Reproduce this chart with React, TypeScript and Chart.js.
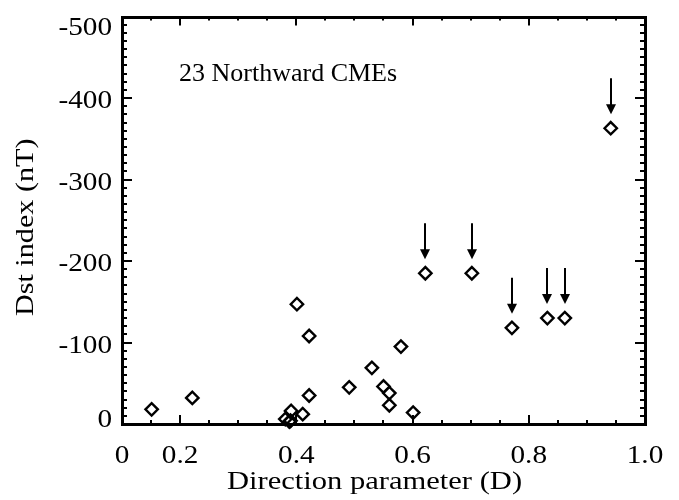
import React, { useEffect, useRef } from "react";
import { Chart, registerables } from "chart.js";

Chart.register(...registerables);

// ---- data ----
const directionD = [
  0.151, 0.221, 0.381, 0.39, 0.391, 0.388, 0.401, 0.411, 0.422, 0.422,
  0.491, 0.53, 0.55, 0.56, 0.56, 0.58, 0.601, 0.622, 0.702, 0.771,
  0.832, 0.862, 0.941,
];
const dstIndex = [
  -18, -32, -6, -4, -16, -3, -147, -12, -108, -35,
  -45, -69, -46, -38, -23, -95, -14, -185, -185, -118,
  -130, -130, -363,
];
const arrowMarked = [
  false, false, false, false, false, false, false, false, false, false,
  false, false, false, false, false, false, false, true, true, true,
  true, true, true,
];

const xRange = [0.1, 1.0];
const yRange = [-500, 0];
const xTickValues = [0.1, 0.2, 0.4, 0.6, 0.8, 1.0];
const xTickLabels = ["0", "0.2", "0.4", "0.6", "0.8", "1.0"];
const xMinorStep = 0.05;
const yTickValues = [-500, -400, -300, -200, -100, 0];
const yTickLabels = ["-500", "-400", "-300", "-200", "-100", "0"];
const yMinorStep = 10;

const annotationText = "23 Northward CMEs";
const xTitle = "Direction parameter (D)";
const yTitle = "Dst index (nT)";

const FONT = '"Liberation Serif", "Times New Roman", Times, serif';

function drawScaledText(
  ctx: CanvasRenderingContext2D,
  s: string,
  x: number,
  y: number,
  align: CanvasTextAlign,
  sx: number,
  rotate = 0
) {
  ctx.save();
  ctx.translate(x, y);
  if (rotate) ctx.rotate(rotate);
  ctx.scale(sx, 1);
  ctx.textAlign = align;
  ctx.textBaseline = "alphabetic";
  ctx.fillText(s, 0, 0);
  ctx.restore();
}

const framePlugin = {
  id: "idlFrame",
  afterDatasetsDraw(chart: any) {
    const ctx: CanvasRenderingContext2D = chart.ctx;
    const meta = chart.getDatasetMeta(0);
    ctx.save();
    ctx.strokeStyle = "#000";
    ctx.fillStyle = "#000";
    ctx.lineWidth = 2;
    meta.data.forEach((el: any, i: number) => {
      if (!arrowMarked[i]) return;
      const cx = Math.round(el.x);
      const tip = el.y - 14;
      const start = el.y - 50;
      ctx.beginPath();
      ctx.moveTo(cx, start);
      ctx.lineTo(cx, tip - 8);
      ctx.stroke();
      ctx.beginPath();
      ctx.moveTo(cx - 5, tip - 10);
      ctx.lineTo(cx + 5, tip - 10);
      ctx.lineTo(cx, tip);
      ctx.closePath();
      ctx.fill();
    });
    ctx.restore();
  },
  afterDraw(chart: any) {
    const ctx: CanvasRenderingContext2D = chart.ctx;
    const a = chart.chartArea;
    const xs = chart.scales.x;
    const ys = chart.scales.y;
    ctx.save();
    ctx.strokeStyle = "#000";
    ctx.fillStyle = "#000";

    const seg = (x1: number, y1: number, x2: number, y2: number) => {
      ctx.beginPath();
      ctx.moveTo(x1, y1);
      ctx.lineTo(x2, y2);
      ctx.stroke();
    };

    // x ticks (bottom & top)
    ctx.lineWidth = 2;
    for (let v = xRange[0]; v <= xRange[1] + 1e-9; v += xMinorStep) {
      const px = Math.round(xs.getPixelForValue(v));
      const major = xTickValues.some((t) => Math.abs(t - v) < 1e-6);
      const len = major ? 9 : 4;
      seg(px, a.bottom, px, a.bottom - len);
      seg(px, a.top, px, a.top + len);
    }
    // y ticks (left & right)
    for (let v = yRange[0]; v <= yRange[1] + 1e-9; v += yMinorStep) {
      const py = Math.round(ys.getPixelForValue(v));
      const major = yTickValues.some((t) => Math.abs(t - v) < 1e-6);
      const len = major ? 10 : 5;
      seg(a.left, py, a.left + len, py);
      seg(a.right, py, a.right - len, py);
    }
    // frame
    ctx.lineWidth = 3;
    ctx.strokeRect(
      Math.round(a.left) + 0.5,
      Math.round(a.top) + 0.5,
      Math.round(a.right - a.left),
      Math.round(a.bottom - a.top)
    );

    // tick labels
    ctx.font = `25px ${FONT}`;
    xTickValues.forEach((v, i) => {
      const px = xs.getPixelForValue(v);
      drawScaledText(ctx, xTickLabels[i], px, a.bottom + 39, "center", 1.17);
    });
    yTickValues.forEach((v, i) => {
      const py = ys.getPixelForValue(v);
      const base = Math.min(Math.max(py + 10, a.top + 18), a.bottom + 3);
      drawScaledText(ctx, yTickLabels[i], a.left - 10, base, "right", 1.17);
    });

    // axis titles
    ctx.font = `26px ${FONT}`;
    drawScaledText(ctx, xTitle, (a.left + a.right) / 2 - 9, a.bottom + 65, "center", 1.175);
    drawScaledText(ctx, yTitle, a.left - 89, (a.top + a.bottom) / 2 + 7, "center", 1.16, -Math.PI / 2);

    // annotation
    ctx.font = `26px ${FONT}`;
    drawScaledText(ctx, annotationText, a.left + 57, a.top + 64, "left", 1.0);

    ctx.restore();
  },
};

export default function App() {
  const ref = useRef<HTMLCanvasElement | null>(null);

  useEffect(() => {
    if (!ref.current) return;
    let chart: Chart | null = null;
    let cancelled = false;
    const build = () => {
      if (cancelled || !ref.current) return;
      const points = directionD.map((d, i) => ({ x: d, y: dstIndex[i] }));
      chart = new Chart(ref.current, {
        type: "scatter",
        data: {
          datasets: [
            {
              data: points,
              pointStyle: "rectRot",
              pointRadius: 6.2,
              pointHoverRadius: 6.2,
              borderWidth: 2.4,
              borderColor: "#000",
              backgroundColor: "rgba(0,0,0,0)",
              showLine: false,
              clip: false,
            } as any,
          ],
        },
        options: {
          responsive: false,
          animation: false,
          events: [],
          layout: { padding: { left: 114, right: 26, top: 6, bottom: 74 } },
          plugins: { legend: { display: false }, tooltip: { enabled: false } },
          scales: {
            x: { type: "linear", min: xRange[0], max: xRange[1], display: false },
            y: { type: "linear", min: yRange[0], max: yRange[1], reverse: true, display: false },
          },
        },
        plugins: [framePlugin],
      });
    };
    const fonts: any = (document as any).fonts;
    if (fonts && fonts.load) {
      Promise.all([
        fonts.load('25px "Liberation Serif"', "0123456789"),
        fonts.load('26px "Liberation Serif"', "Direction"),
      ])
        .catch(() => null)
        .then(build);
    } else {
      build();
    }
    return () => {
      cancelled = true;
      if (chart) chart.destroy();
    };
  }, []);

  return (
    <div>
      <span
        style={{
          fontFamily: '"Liberation Serif"',
          position: "absolute",
          left: -9999,
          top: 0,
        }}
      >
        0.2
      </span>
      <canvas
        ref={ref}
        width={663}
        height={490}
        style={{ display: "block", width: 663, height: 490 }}
      />
    </div>
  );
}
